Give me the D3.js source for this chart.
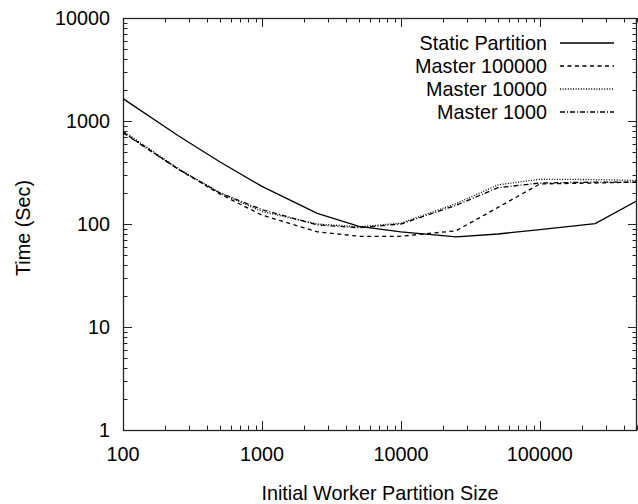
<!DOCTYPE html>
<html><head><meta charset="utf-8">
<script src="https://cdn.jsdelivr.net/npm/d3@7"></script>
<style>body{margin:0;background:#fff}svg text{font-family:"Liberation Sans",Arial,Helvetica,sans-serif;fill:#000}</style>
</head><body><svg id="c" width="638" height="504"></svg>
<script>
const sizes = [100, 250, 500, 1000, 2500, 5000, 10000, 25000, 50000, 100000, 250000, 500000];
const staticPartition = [1650, 720, 400, 232, 127, 95, 84, 75, 80, 88, 101, 168];
const master100000 = [780, 340, 195, 122, 84, 76, 76, 86, 145, 245, 250, 255];
const master10000 = [800, 345, 200, 132, 100, 94, 102, 158, 240, 272, 270, 265];
const master1000 = [770, 340, 200, 138, 98, 92, 100, 152, 225, 250, 255, 255];
const seriesNames = ["Static Partition", "Master 100000", "Master 10000", "Master 1000"];
const xTicks = [100, 1000, 10000, 100000];
const yTicks = [1, 10, 100, 1000, 10000];

const seriesData = [staticPartition, master100000, master10000, master1000];
const dashes = [null, "4,3.5", "1,1.6", "5,2,1,2"];

const svg = d3.select("#c");
const L = 123, R = 637, T = 18, B = 430;
const x = d3.scaleLog().domain([100, 500000]).range([L, R]);
const y = d3.scaleLog().domain([1, 10000]).range([B, T]);
const fs = 19.8;

// minor ticks
const xMinor = [];
for (let d = 100; d < 1e6; d *= 10) for (let k = 1; k < 10; k++) { const v = d * k; if (v <= 500000) xMinor.push(v); }
const yMinor = [];
for (let d = 1; d < 1e4; d *= 10) for (let k = 1; k <= 10; k++) yMinor.push(d * k);

const g = svg.append("g").attr("stroke", "#222").attr("stroke-width", 1);
xMinor.forEach(v => {
  const major = xTicks.includes(v);
  const len = major ? 9 : 4.5;
  const px = Math.round(x(v)) + 0.5;
  g.append("line").attr("x1", px).attr("x2", px).attr("y1", B).attr("y2", B - len);
  g.append("line").attr("x1", px).attr("x2", px).attr("y1", T).attr("y2", T + len);
});
yMinor.forEach(v => {
  const major = yTicks.includes(v);
  const len = major ? 9 : 4.5;
  const py = Math.round(y(v)) + 0.5;
  g.append("line").attr("y1", py).attr("y2", py).attr("x1", L).attr("x2", L + len);
  g.append("line").attr("y1", py).attr("y2", py).attr("x1", R).attr("x2", R - len);
});
svg.append("rect").attr("x", L + 0.5).attr("y", T + 0.5).attr("width", R - L - 1).attr("height", B - T)
  .attr("fill", "none").attr("stroke", "#222").attr("stroke-width", 1.3);

// tick labels
xTicks.forEach(v => svg.append("text").attr("x", x(v)).attr("y", 461).attr("text-anchor", "middle")
  .attr("font-size", fs).text(d3.format("d")(v)));
yTicks.forEach(v => svg.append("text").attr("x", 110).attr("y", y(v) + 7).attr("text-anchor", "end")
  .attr("font-size", fs).text(d3.format("d")(v)));

svg.append("text").attr("x", (L + R) / 2 + 0).attr("y", 500).attr("text-anchor", "middle")
  .attr("font-size", fs).text("Initial Worker Partition Size");
svg.append("text").attr("transform", "translate(30,228) rotate(-90)").attr("text-anchor", "middle")
  .attr("font-size", fs).text("Time (Sec)");

// lines
const line = d3.line().x((d, i) => x(sizes[i])).y(d => y(d));
const clip = svg.append("clipPath").attr("id", "clp").append("rect").attr("x", L).attr("y", T).attr("width", R - L).attr("height", B - T);
seriesData.forEach((s, i) => {
  svg.append("path").datum(s).attr("d", line).attr("fill", "none").attr("stroke", "#000")
    .attr("stroke-width", 1.3).attr("stroke-dasharray", dashes[i]).attr("clip-path", "url(#clp)");
});

// legend
seriesNames.forEach((n, i) => {
  const ly = 43 + i * 23;
  svg.append("text").attr("x", 547).attr("y", ly + 7).attr("text-anchor", "end").attr("font-size", fs).text(n);
  svg.append("line").attr("x1", 560).attr("x2", 614).attr("y1", ly).attr("y2", ly)
    .attr("stroke", "#000").attr("stroke-width", 1.3).attr("stroke-dasharray", dashes[i]);
});
</script></body></html>
